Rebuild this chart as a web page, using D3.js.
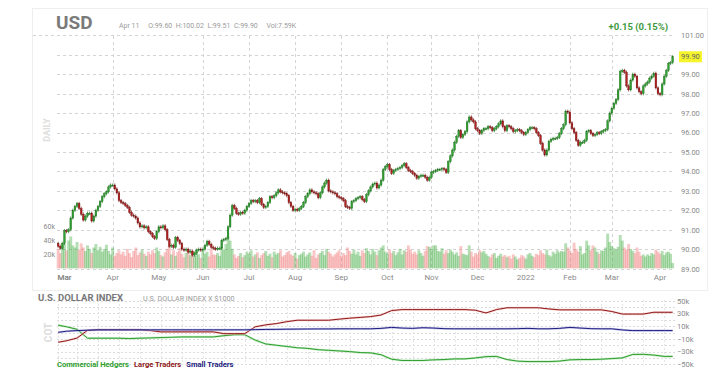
<!DOCTYPE html>
<html>
<head>
<meta charset="utf-8">
<script src="https://cdn.jsdelivr.net/npm/d3@7"></script>
<style>
  body { margin: 0; background: #fff; font-family: Roboto, "Noto Sans", sans-serif; }
</style>
</head>
<body>
<svg id="chart" width="720" height="371"></svg>
<script>
// daily closes, Feb 24 2021 .. Apr 11 2022 (weekdays)
var closes = [
  90.15, 90.05, 90.30, 90.95, 90.90, 91.00, 91.60, 92.00, 92.20, 92.35,
  92.10, 91.80, 91.50, 91.70, 91.85, 91.85, 91.45, 91.70, 92.00, 92.20,
  92.45, 92.70, 92.85, 92.95, 93.20, 93.30, 93.30, 93.10, 92.90, 92.50,
  92.40, 92.35, 92.25, 92.15, 91.90, 91.75, 91.70, 91.60, 91.35, 91.15,
  91.20, 91.10, 91.15, 90.90, 90.80, 90.65, 90.55, 90.90, 91.15, 91.10,
  91.20, 91.00, 90.50, 90.15, 90.20, 90.10, 90.60, 90.45, 90.30, 90.00,
  89.95, 90.00, 89.85, 89.90, 89.70, 89.80, 89.95, 90.00, 89.95, 90.00,
  90.20, 90.40, 90.25, 90.10, 90.05, 90.00, 90.05, 90.05, 90.45, 90.50,
  90.55, 91.15, 91.75, 92.25, 92.10, 91.85, 91.80, 91.90, 91.85, 92.00,
  92.20, 92.35, 92.50, 92.45, 92.50, 92.40, 92.60, 92.30, 92.15, 92.20,
  92.40, 92.70, 92.65, 92.75, 92.90, 93.05, 92.95, 92.90, 92.85, 92.75,
  92.40, 92.20, 92.00, 92.05, 92.00, 92.10, 92.20, 92.40, 92.70, 92.85,
  93.05, 92.95, 92.90, 92.85, 92.65, 92.90, 93.20, 93.40, 93.55, 93.00,
  92.95, 92.90, 92.85, 92.70, 92.65, 92.60, 92.50, 92.20, 92.15, 92.10,
  92.45, 92.50, 92.60, 92.65, 92.70, 92.55, 92.45, 92.80, 93.00, 93.20,
  93.35, 93.40, 93.15, 93.30, 93.55, 94.10, 94.25, 94.35, 94.10, 93.90,
  94.05, 94.10, 94.15, 94.20, 94.30, 94.40, 94.20, 94.05, 94.00, 93.90,
  93.80, 93.65, 93.75, 93.80, 93.80, 93.70, 93.55, 93.70, 93.95, 94.00,
  94.05, 94.10, 94.10, 94.15, 94.10, 93.95, 94.50, 94.80, 95.10, 95.50,
  95.80, 96.10, 95.75, 95.90, 96.05, 96.55, 96.80, 96.65, 96.55, 96.20,
  96.10, 95.95, 96.10, 96.20, 96.20, 96.30, 96.25, 96.10, 96.20, 96.30,
  96.45, 96.60, 96.30, 96.10, 96.35, 96.30, 96.20, 96.05, 96.10, 96.15,
  96.10, 96.00, 95.90, 96.00, 96.15, 96.25, 96.25, 96.20, 96.00, 95.85,
  95.45, 95.10, 94.85, 95.10, 95.55, 95.65, 95.70, 95.70, 95.75, 95.95,
  96.20, 96.40, 97.10, 97.05, 96.50, 96.20, 96.00, 95.60, 95.35, 95.50,
  95.50, 95.60, 96.05, 96.10, 95.95, 95.85, 95.90, 96.00, 95.95, 96.05,
  96.10, 96.15, 96.60, 97.00, 97.25, 97.50, 97.70, 98.20, 99.15, 99.20,
  99.10, 98.40, 98.20, 98.70, 99.00, 98.90, 98.30, 98.10, 98.00, 98.40,
  98.50, 98.60, 98.80, 98.90, 99.05, 98.30, 98.00, 97.95, 98.50, 98.90,
  99.20, 99.55, 99.60, 99.90
];
var firstOpen = 90.30;

// daily volume, thousands
var volumes = [
  28, 22, 30, 35, 26, 40, 46, 33, 30, 38,
  27, 36, 30, 25, 33, 28, 22, 30, 35, 26,
  31, 24, 28, 34, 25, 20, 30, 18, 22, 26,
  20, 24, 18, 28, 22, 16, 25, 30, 19, 23,
  27, 21, 18, 24, 20, 26, 22, 30, 25, 19,
  17, 23, 28, 32, 20, 26, 18, 24, 29, 21,
  16, 22, 27, 19, 25, 18, 23, 20, 15, 26,
  21, 24, 17, 28, 20, 19, 22, 18, 30, 27,
  35, 46, 40, 28, 20, 15, 18, 22, 16, 19,
  24, 21, 26, 17, 20, 23, 15, 19, 22, 25,
  18, 21, 16, 24, 20, 22, 26, 17, 19, 23,
  25, 20, 18, 22, 14, 19, 21, 24, 17, 20,
  23, 18, 26, 15, 20, 22, 25, 19, 28, 24,
  21, 17, 20, 23, 26, 18, 22, 19, 30, 25,
  21, 27, 20, 24, 18, 26, 22, 29, 25, 20,
  28, 24, 19, 26, 30, 33, 24, 21, 27, 22,
  25, 19, 23, 28, 20, 26, 24, 33, 27, 21,
  24, 20, 26, 22, 18, 25, 32, 31, 28, 33,
  33, 25, 24, 29, 21, 26, 22, 27, 24, 20,
  23, 18, 32, 21, 20, 19, 33, 24, 17, 22,
  20, 26, 23, 25, 21, 18, 16, 20, 22, 15,
  18, 21, 17, 19, 16, 18, 14, 20, 17, 13,
  15, 19, 17, 14, 20, 22, 18, 16, 21, 19,
  26, 22, 20, 27, 19, 17, 24, 21, 26, 23,
  25, 24, 36, 30, 26, 22, 37, 28, 24, 32,
  20, 22, 40, 33, 26, 33, 30, 24, 21, 26,
  25, 30, 50, 38, 32, 29, 27, 31, 48, 40,
  30, 27, 35, 28, 25, 22, 30, 24, 18, 20,
  17, 20, 18, 22, 20, 27, 24, 21, 25, 19,
  23, 24, 21, 7.6
];

var priceGrid = [89, 90, 91, 92, 93, 94, 95, 96, 97, 98, 99, 100, 101];
var priceTicks = [89, 90, 91, 92, 93, 94, 95, 96, 97, 98, 99, 101];
var volTicks = [20, 40, 60];
var gridMonths = ["2021-04", "2021-06", "2021-07", "2021-08", "2021-09", "2021-10",
                  "2021-11", "2021-12", "2022-02", "2022-03"];

// weekly COT positions, thousands of contracts
var cotWeeks = [
  "2021-02-23", "2021-03-02", "2021-03-09", "2021-03-16", "2021-03-23", "2021-03-30",
  "2021-04-06", "2021-04-13", "2021-04-20", "2021-04-27", "2021-05-04", "2021-05-11",
  "2021-05-18", "2021-05-25", "2021-06-01", "2021-06-08", "2021-06-15", "2021-06-22",
  "2021-06-29", "2021-07-06", "2021-07-13", "2021-07-20", "2021-07-27", "2021-08-03",
  "2021-08-10", "2021-08-17", "2021-08-24", "2021-08-31", "2021-09-07", "2021-09-14",
  "2021-09-21", "2021-09-28", "2021-10-05", "2021-10-12", "2021-10-19", "2021-10-26",
  "2021-11-02", "2021-11-09", "2021-11-16", "2021-11-23", "2021-11-30", "2021-12-07",
  "2021-12-14", "2021-12-21", "2021-12-28", "2022-01-04", "2022-01-11", "2022-01-18",
  "2022-01-25", "2022-02-01", "2022-02-08", "2022-02-15", "2022-02-22", "2022-03-01",
  "2022-03-08", "2022-03-15", "2022-03-22", "2022-03-29", "2022-04-05", "2022-04-12"
];
var commercial = [
  11.5, 9, 5, -9, -9, -9, -9, -9.5, -9, -8.5, -8, -7.5,
  -7, -7, -7, -7, -5, -3.5, -3.5, -12, -18, -20, -22, -24,
  -25, -27, -28, -29, -30, -31.5, -32, -35, -42, -44, -44, -44,
  -43, -42.5, -41.5, -41.5, -40, -38, -37.5, -42.5, -45, -45.7,
  -45.7, -45.7, -45, -43, -42.5, -42.5, -42, -41, -40, -34.5,
  -34.3, -35.5, -37.6, -37.6
];
var large = [
  -15.3, -13, -8.8, 3.5, 4.2, 4.2, 4.2, 4.2, 4.2, 3, 1, 1,
  1, 1, 1, 1, -1.8, -1.8, -1.8, 9, 12, 14, 17, 19.3,
  19.3, 19.3, 19.3, 21, 22.5, 23.7, 25, 27.5, 34.5, 36, 36, 36,
  36, 36, 36, 36, 35, 30.7, 36, 38.9, 38.9, 38.9, 38.9, 37, 35.6, 35.6,
  35.6, 35.6, 35.6, 33, 29, 29, 29, 31.8, 31.8, 31.8
];
var small = [
  0.3, 2, 3, 3.6, 4.2, 4.2, 4.2, 4.2, 4.2, 4.2, 4.2, 4.2,
  4.2, 4.2, 4.2, 4.2, 4.2, 4.2, 4.2, 4.5, 4.8, 5, 5.2, 5.4,
  5.5, 5.6, 5.6, 5.8, 5.8, 5.8, 5.8, 6.5, 8, 7, 6.5, 7.5,
  7, 6, 5.8, 5.8, 5.8, 5.8, 5.8, 5.8, 6, 6.5, 5.8, 5.8,
  6.5, 8, 7, 6, 5.8, 5.8, 4, 3, 3, 3, 3, 3
];
var cotTicks = [50, 30, 10, -10, -30, -50];

// --- layout
var svg = d3.select("#chart");
var grey = "#8a8a8a";

var parse = d3.timeParse("%Y-%m-%d");
var days = d3.timeDay.range(new Date(2021, 1, 24), new Date(2022, 3, 12))
             .filter(function(d) { return d.getDay() > 0 && d.getDay() < 6; });

var x = d3.scaleBand().domain(days).range([57.1, 673.7]).padding(0);
var step = x.bandwidth();
function cx(d) { return x(d) + step / 2; }

var y = d3.scaleLinear().domain([89, 101]).range([268.6, 35.4]);
var yVol = d3.scaleLinear().domain([0, 60]).range([268.3, 226.7]);

var bars = days.map(function(d, i) {
  var o = i ? closes[i - 1] : firstOpen;
  return { date: d, open: o, close: closes[i], vol: volumes[i], up: closes[i] >= o };
});

// card frame
svg.append("rect").attr("x", 32.5).attr("y", 8.5).attr("width", 675).attr("height", 282)
  .attr("fill", "none").attr("stroke", "#eeeeee");

// horizontal price grid
svg.append("g").selectAll("line").data(priceGrid).enter().append("line")
  .attr("x1", function(d) { return d === 101 ? 33 : 57; })
  .attr("x2", 675)
  .attr("y1", function(d) { return Math.round(y(d)) + 0.5; })
  .attr("y2", function(d) { return Math.round(y(d)) + 0.5; })
  .attr("stroke", "#d4d4d4").attr("stroke-dasharray", "3,3");

// month boundaries
var monthStarts = days.filter(function(d, i) { return i > 0 && d.getMonth() !== days[i - 1].getMonth(); });
var fmtKey = d3.timeFormat("%Y-%m");
svg.append("g").selectAll("line")
  .data(monthStarts.filter(function(d) { return gridMonths.indexOf(fmtKey(d)) >= 0; }))
  .enter().append("line")
  .attr("x1", function(d) { return Math.round(cx(d)) + 0.5; })
  .attr("x2", function(d) { return Math.round(cx(d)) + 0.5; })
  .attr("y1", 36).attr("y2", 269)
  .attr("stroke", "#d4d4d4").attr("stroke-dasharray", "3,3");

// volume
svg.append("g").selectAll("rect").data(bars).enter().append("rect")
  .attr("x", function(d) { return x(d.date) - step * 0.2; })
  .attr("width", step * 1.4)
  .attr("y", function(d) { return yVol(d.vol); })
  .attr("height", function(d) { return yVol(0) - yVol(d.vol); })
  .attr("fill", function(d) { return d.up ? "#4cb04c" : "#f07a7a"; })
  .attr("fill-opacity", 0.42);

// candles
var candles = svg.append("g").selectAll("g").data(bars).enter().append("g");
candles.append("line")
  .attr("x1", function(d) { return cx(d.date); })
  .attr("x2", function(d) { return cx(d.date); })
  .attr("y1", function(d) { return y(Math.max(d.open, d.close)) - 1.6; })
  .attr("y2", function(d) { return y(Math.min(d.open, d.close)) + 1.6; })
  .attr("stroke", function(d) { return d.up ? "#1e6e1e" : "#6e1212"; })
  .attr("stroke-width", 0.7);
candles.append("rect")
  .attr("x", function(d) { return x(d.date) + 0.2; })
  .attr("width", step - 0.4)
  .attr("y", function(d) { return y(Math.max(d.open, d.close)); })
  .attr("height", function(d) { return Math.max(1, Math.abs(y(d.open) - y(d.close))); })
  .attr("fill", function(d) { return d.up ? "#30a030" : "#b52020"; })
  .attr("stroke", function(d) { return d.up ? "#1e6e1e" : "#6e1212"; })
  .attr("stroke-width", 0.4);

// price axis (right)
var yAxis = d3.axisRight(y).tickValues(priceTicks).tickSize(0).tickPadding(0)
  .tickFormat(d3.format(".2f"));
var gy = svg.append("g").attr("transform", "translate(681,0)").call(yAxis);
gy.select(".domain").remove();
gy.selectAll("text").attr("fill", grey).style("font-size", "7.5px").style("font-family", "Roboto");

// last price tag
var last = bars[bars.length - 1];
svg.append("rect").attr("x", 679).attr("y", y(last.close) - 5.5).attr("width", 23).attr("height", 11)
  .attr("fill", "#f6f52c");
svg.append("text").attr("x", 681).attr("y", y(last.close)).attr("dy", "0.34em")
  .attr("fill", "#666").style("font-size", "7.5px").text(d3.format(".2f")(last.close));

// volume axis (left)
var vAxis = d3.axisLeft(yVol).tickValues(volTicks).tickSize(0).tickPadding(0)
  .tickFormat(function(d) { return d + "k"; });
var gv = svg.append("g").attr("transform", "translate(55,0)").call(vAxis);
gv.select(".domain").remove();
gv.selectAll("text").attr("fill", grey).style("font-size", "7px").style("font-family", "Roboto");

// month axis
var xAxis = d3.axisBottom(x).tickValues([days[3]].concat(monthStarts)).tickSize(0).tickPadding(0)
  .tickFormat(function(d) { return d.getMonth() === 0 ? d3.timeFormat("%Y")(d) : d3.timeFormat("%b")(d); });
var gx = svg.append("g").attr("transform", "translate(0,274)").call(xAxis);
gx.select(".domain").remove();
gx.selectAll("text").attr("fill", grey).style("font-size", "8px").style("font-family", "Roboto");

// DAILY label
svg.append("text").attr("transform", "translate(50,130) rotate(-90)")
  .attr("text-anchor", "middle").attr("fill", "#e0e0e0")
  .style("font-size", "9px").style("font-weight", "bold").text("DAILY");

// header
svg.append("text").attr("x", 56).attr("y", 28.5).attr("fill", "#7a7a7a")
  .style("font-size", "19px").style("font-weight", "bold").text("USD");
svg.append("text").attr("x", 119).attr("y", 28).attr("fill", "#9a9a9a").style("font-size", "7px")
  .attr("xml:space", "preserve")
  .text("Apr 11     O:99.60  H:100.02  L:99.51  C:99.90     Vol:7.59K");
svg.append("text").attr("x", 668).attr("y", 30).attr("text-anchor", "end").attr("fill", "#3d9a3d")
  .style("font-size", "9.5px").style("font-weight", "bold").text("+0.15 (0.15%)");

// --- COT panel
var yCot = d3.scaleLinear().domain([-50, 50]).range([364.3, 300.7]);
var cotDates = cotWeeks.map(parse);
function cotX(d) {
  var i = Math.min(d3.bisectLeft(days, d), days.length - 1);
  return cx(days[i]);
}

var cotGrid = svg.append("g");
cotGrid.selectAll("line.h").data(d3.range(-50, 51, 10)).enter().append("line")
  .attr("x1", 57).attr("x2", 675)
  .attr("y1", function(d) { return Math.round(yCot(d)) + 0.5; })
  .attr("y2", function(d) { return Math.round(yCot(d)) + 0.5; })
  .attr("stroke", "#dcdcdc").attr("stroke-dasharray", "2,2");
cotGrid.selectAll("line.v").data(cotDates.filter(function(d, i) { return i % 2 === 0; })).enter().append("line")
  .attr("x1", function(d) { return Math.round(cotX(d)) + 0.5; })
  .attr("x2", function(d) { return Math.round(cotX(d)) + 0.5; })
  .attr("y1", 300).attr("y2", 365)
  .attr("stroke", "#e4e4e4").attr("stroke-dasharray", "2,2");

var series = [
  { name: "Commercial Hedgers", values: commercial, color: "#2f9e2f", light: "#9fe09f" },
  { name: "Large Traders", values: large, color: "#8e1a1a", light: "#f2b0b0" },
  { name: "Small Traders", values: small, color: "#1c1c80", light: "#a8a8e0" }
];
var line = d3.line().x(function(d) { return cotX(d[0]); }).y(function(d) { return yCot(d[1]); });
series.forEach(function(s) {
  var pts = cotDates.map(function(d, i) { return [d, s.values[i]]; });
  svg.append("path").attr("d", line(pts)).attr("fill", "none")
    .attr("stroke", s.light).attr("stroke-width", 2.2).attr("stroke-opacity", 0.6);
  svg.append("path").attr("d", line(pts)).attr("fill", "none")
    .attr("stroke", s.color).attr("stroke-width", 1);
});

var cAxis = d3.axisRight(yCot).tickValues(cotTicks).tickSize(0).tickPadding(0)
  .tickFormat(function(d) { return (d < 0 ? "\u2212" + (-d) : d) + "k"; });
var gc = svg.append("g").attr("transform", "translate(677,0)").call(cAxis);
gc.select(".domain").remove();
gc.selectAll("text").attr("fill", grey).style("font-size", "7.5px").style("font-family", "Roboto");

svg.append("text").attr("x", 38).attr("y", 301).attr("fill", "#777")
  .style("font-size", "9.5px").style("font-weight", "bold").text("U.S. DOLLAR INDEX");
svg.append("text").attr("x", 143).attr("y", 300.5).attr("fill", "#999")
  .style("font-size", "7.2px").text("U.S. DOLLAR INDEX X $1000");
svg.append("text").attr("transform", "translate(52,332.5) rotate(-90)")
  .attr("text-anchor", "middle").attr("fill", "#dcdcdc")
  .style("font-size", "10px").style("font-weight", "bold").text("COT");

var lx = 57;
series.forEach(function(s) {
  var t = svg.append("text").attr("x", lx).attr("y", 366.5).attr("fill", s.color)
    .style("font-size", "7.6px").style("font-weight", "bold").text(s.name);
  lx += t.node().getComputedTextLength() + 5;
});
</script>
</body>
</html>
